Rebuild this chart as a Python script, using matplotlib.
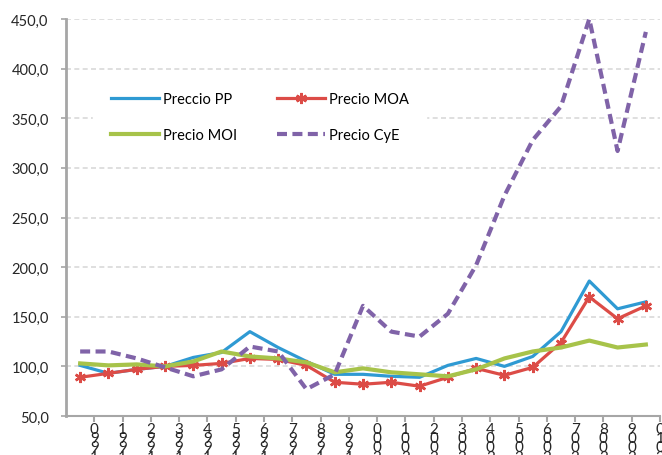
import matplotlib
matplotlib.use("Agg")
import matplotlib.pyplot as plt
from matplotlib.ticker import FuncFormatter

plt.rcParams["font.family"] = ["Lato", "DejaVu Sans"]

# years 1990 .. 2010
years = [1990, 1991, 1992, 1993, 1994, 1995, 1996, 1997, 1998, 1999, 2000,
         2001, 2002, 2003, 2004, 2005, 2006, 2007, 2008, 2009, 2010]

precio_pp = [101, 93, 97, 100, 109, 114, 135, 119, 105, 92, 92,
             90, 89, 101, 108, 100, 110, 135, 186, 158, 165]
precio_moa = [89, 93, 97, 100, 101, 103, 108, 107, 101, 84, 82,
              84, 80, 89, 98, 91, 99, 124, 170, 148, 161]
precio_moi = [103, 101, 102, 100, 105, 115, 110, 108, 104, 94, 98,
              94, 92, 90, 97, 108, 115, 119, 126, 119, 122]
precio_cye = [115, 115, 108, 99, 90, 97, 120, 115, 77, 92, 161,
              135, 130, 153, 202, 272, 328, 362, 450, 317, 437]

x = list(range(len(years)))

fig = plt.figure(figsize=(6.62, 4.56), dpi=100)
ax = fig.add_axes([66 / 662, 39 / 456, 594 / 662, 397 / 456])

# series (Excel order: later ones on top)
ax.plot(x, precio_pp, color="#2f9ad3", lw=2.3, label="Preccio PP", zorder=3)
ax.plot(x, precio_moa, color="#dc4c47", lw=2.3, marker=(6, 2, 0), markersize=8,
        markeredgewidth=1.8, label="Precio MOA", zorder=4)
ax.plot(x, precio_moi, color="#a7c34a", lw=3.0, label="Precio MOI", zorder=5)
ax.plot(x, precio_cye, color="#8063a8", lw=3.0, dashes=(2.4, 1.3),
        label="Precio CyE", zorder=6)

ax.set_xlim(-0.5, len(years) - 0.5)
ax.set_ylim(50, 450)
ax.set_yticks(range(50, 451, 50))
ax.yaxis.set_major_formatter(FuncFormatter(lambda v, p: f"{v:.1f}".replace(".", ",")))

# category labels sit on the boundary ticks, digits stacked in reverse
ax.set_xticks([i + 0.5 for i in x])
ax.set_xticklabels(["\n".join(reversed(str(y))) for y in years],
                   fontsize=11, linespacing=0.58, va="top")

ax.grid(axis="y", color="#d9d9d9", lw=1.2, ls=(0, (3, 2)), zorder=0)
ax.set_axisbelow(True)

for side in ["top", "right"]:
    ax.spines[side].set_visible(False)
ax.spines["left"].set_color("#a6a6a6")
ax.spines["left"].set_linewidth(2.0)
ax.spines["bottom"].set_color("#a6a6a6")
ax.spines["bottom"].set_linewidth(1.5)

ax.tick_params(axis="y", direction="out", length=3.5, width=1.2, color="#a6a6a6",
               labelsize=10.5, labelcolor="#262626", pad=9)
ax.tick_params(axis="x", direction="out", length=4, width=1.5, color="#a6a6a6",
               labelcolor="#262626", pad=0)

handles, labels = ax.get_legend_handles_labels()
order = [0, 2, 1, 3]
leg = fig.legend([handles[i] for i in order], [labels[i] for i in order],
                 loc="upper left", bbox_to_anchor=(93 / 662, 1 - 76 / 456),
                 ncol=2, fontsize=10.5, frameon=True, fancybox=False,
                 handlelength=3.3, handletextpad=0.3, columnspacing=2.7,
                 labelspacing=1.45, borderpad=1.2, borderaxespad=0)
leg.get_frame().set_facecolor("white")
leg.get_frame().set_edgecolor("white")
leg.get_frame().set_alpha(1)

fig.savefig("out.png", dpi=100)
